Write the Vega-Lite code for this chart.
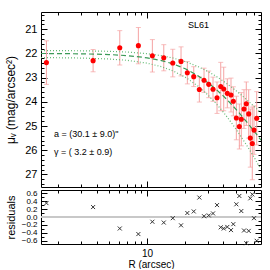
{
  "$schema": "https://vega.github.io/schema/vega-lite/v6.json",
  "padding": {"left": 4, "top": 11, "right": 5, "bottom": 0},
  "spacing": 3,
  "bounds": "flush",
  "config": {
    "view": {"stroke": null},
    "font": "Liberation Sans",
    "axis": {"grid": false, "domainColor": "#000", "tickColor": "#000", "labelColor": "#000", "titleColor": "#000", "titleFontWeight": "normal", "labelFont": "Liberation Sans", "titleFont": "Liberation Sans", "labelFontSize": 11, "titleFontSize": 11, "labelOverlap": false, "labelFlush": false, "tickWidth": 1, "domainWidth": 1}
  },
  "vconcat": [
    {
      "width": 220,
      "height": 175,
      "resolve": {"axis": {"x": "independent", "y": "independent"}},
      "data": {"values": [
        {"R": 1.611, "mu": 22.38, "lo": 21.48, "hi": 23.28},
        {"R": 3.757, "mu": 22.30, "lo": 21.84, "hi": 22.76},
        {"R": 6.095, "mu": 21.77, "lo": 21.06, "hi": 22.48},
        {"R": 8.54, "mu": 21.68, "lo": 20.93, "hi": 22.43},
        {"R": 11.01, "mu": 22.10, "lo": 21.43, "hi": 22.77},
        {"R": 13.54, "mu": 22.18, "lo": 21.64, "hi": 22.72},
        {"R": 15.94, "mu": 22.40, "lo": 21.83, "hi": 22.97},
        {"R": 18.52, "mu": 22.33, "lo": 21.73, "hi": 22.93},
        {"R": 20.76, "mu": 22.80, "lo": 22.34, "hi": 23.26},
        {"R": 23.32, "mu": 22.96, "lo": 22.55, "hi": 23.37},
        {"R": 25.81, "mu": 23.49, "lo": 22.97, "hi": 24.01},
        {"R": 28.11, "mu": 23.11, "lo": 22.61, "hi": 23.61},
        {"R": 30.61, "mu": 23.28, "lo": 22.73, "hi": 23.83},
        {"R": 33.09, "mu": 23.48, "lo": 22.98, "hi": 23.98},
        {"R": 35.58, "mu": 23.83, "lo": 23.18, "hi": 24.48},
        {"R": 38.05, "mu": 23.37, "lo": 22.37, "hi": 24.37},
        {"R": 40.18, "mu": 23.47, "lo": 22.57, "hi": 24.37},
        {"R": 42.88, "mu": 23.65, "lo": 23.05, "hi": 24.25},
        {"R": 45.85, "mu": 23.72, "lo": 23.02, "hi": 24.42},
        {"R": 47.81, "mu": 23.98, "lo": 23.38, "hi": 24.58},
        {"R": 50.5, "mu": 24.67, "lo": 23.77, "hi": 25.57},
        {"R": 53.32, "mu": 25.02, "lo": 24.09, "hi": 25.95},
        {"R": 55.27, "mu": 24.72, "lo": 23.62, "hi": 25.82},
        {"R": 58.05, "mu": 24.30, "lo": 23.50, "hi": 25.10},
        {"R": 60.5, "mu": 24.08, "lo": 23.18, "hi": 24.98},
        {"R": 63.22, "mu": 24.50, "lo": 23.50, "hi": 25.50},
        {"R": 65.07, "mu": 25.50, "lo": 24.30, "hi": 26.70},
        {"R": 67.46, "mu": 25.72, "lo": 24.22, "hi": 27.22},
        {"R": 69.58, "mu": 25.17, "lo": 24.17, "hi": 26.17},
        {"R": 73.08, "mu": 24.68, "lo": 23.58, "hi": 25.78}
      ]},
      "layer": [
        {
          "mark": {"type": "rule", "color": "#f5a3a3", "strokeWidth": 1},
          "encoding": {
            "x": {"field": "R", "type": "quantitative", "scale": {"type": "log", "domain": [1.46, 79], "nice": false},
                  "axis": {"orient": "bottom", "values": [10], "tickSize": -6, "labels": false, "title": null}},
            "y": {"field": "lo", "type": "quantitative", "scale": {"domain": [20.29, 27.52], "reverse": true, "nice": false, "zero": false},
                  "axis": {"orient": "left", "values": [21, 22, 23, 24, 25, 26, 27], "tickSize": -6, "labelPadding": 10, "format": "d", "title": "μᵥ (mag/arcsec²)", "titleFontSize": 12, "titleX": -31, "titleBaseline": "middle"}},
            "y2": {"field": "hi"}
          }
        },
        {
          "mark": {"type": "tick", "orient": "horizontal", "color": "#f5a3a3", "size": 5, "thickness": 1},
          "encoding": {
            "x": {"field": "R", "type": "quantitative", "scale": {"type": "log", "domain": [1.46, 79], "nice": false},
                  "axis": {"orient": "bottom", "values": [2, 3, 4, 5, 6, 7, 8, 9, 20, 30, 40, 50, 60, 70], "tickSize": -3, "labels": false, "domain": false, "title": null}},
            "y": {"field": "lo", "type": "quantitative", "scale": {"domain": [20.29, 27.52], "reverse": true, "nice": false, "zero": false},
                  "axis": {"orient": "left", "values": [20.4, 20.6, 20.8, 21.2, 21.4, 21.6, 21.8, 22.2, 22.4, 22.6, 22.8, 23.2, 23.4, 23.6, 23.8, 24.2, 24.4, 24.6, 24.8, 25.2, 25.4, 25.6, 25.8, 26.2, 26.4, 26.6, 26.8, 27.2, 27.4], "tickSize": -3, "labels": false, "domain": false, "title": null}}
          }
        },
        {
          "mark": {"type": "tick", "orient": "horizontal", "color": "#f5a3a3", "size": 5, "thickness": 1},
          "encoding": {
            "x": {"field": "R", "type": "quantitative", "scale": {"type": "log", "domain": [1.46, 79], "nice": false},
                  "axis": {"orient": "top", "values": [10], "tickSize": -6, "labels": false, "title": null}},
            "y": {"field": "hi", "type": "quantitative", "scale": {"domain": [20.29, 27.52], "reverse": true, "nice": false, "zero": false},
                  "axis": {"orient": "right", "values": [21, 22, 23, 24, 25, 26, 27], "tickSize": -6, "labels": false, "title": null}}
          }
        },
        {
          "data": {"values": [
            {"R": 1.46, "mu": 22.004, "c": "fit"}, {"R": 2, "mu": 22.008, "c": "fit"}, {"R": 3, "mu": 22.017, "c": "fit"}, {"R": 5, "mu": 22.047, "c": "fit"}, {"R": 7, "mu": 22.092, "c": "fit"}, {"R": 10, "mu": 22.182, "c": "fit"}, {"R": 13, "mu": 22.297, "c": "fit"}, {"R": 16, "mu": 22.432, "c": "fit"}, {"R": 20, "mu": 22.635, "c": "fit"}, {"R": 25, "mu": 22.911, "c": "fit"}, {"R": 30, "mu": 23.198, "c": "fit"}, {"R": 35, "mu": 23.486, "c": "fit"}, {"R": 40, "mu": 23.767, "c": "fit"}, {"R": 45, "mu": 24.040, "c": "fit"}, {"R": 50, "mu": 24.300, "c": "fit"}, {"R": 55, "mu": 24.549, "c": "fit"}, {"R": 60, "mu": 24.787, "c": "fit"}, {"R": 65, "mu": 25.012, "c": "fit"}, {"R": 70, "mu": 25.227, "c": "fit"}, {"R": 75, "mu": 25.431, "c": "fit"}, {"R": 79, "mu": 25.588, "c": "fit"},
            {"R": 1.46, "mu": 21.883, "c": "up"}, {"R": 2, "mu": 21.886, "c": "up"}, {"R": 3, "mu": 21.892, "c": "up"}, {"R": 5, "mu": 21.914, "c": "up"}, {"R": 7, "mu": 21.946, "c": "up"}, {"R": 10, "mu": 22.011, "c": "up"}, {"R": 13, "mu": 22.094, "c": "up"}, {"R": 16, "mu": 22.191, "c": "up"}, {"R": 20, "mu": 22.337, "c": "up"}, {"R": 25, "mu": 22.535, "c": "up"}, {"R": 30, "mu": 22.741, "c": "up"}, {"R": 35, "mu": 22.948, "c": "up"}, {"R": 40, "mu": 23.150, "c": "up"}, {"R": 45, "mu": 23.346, "c": "up"}, {"R": 50, "mu": 23.533, "c": "up"}, {"R": 55, "mu": 23.712, "c": "up"}, {"R": 60, "mu": 23.883, "c": "up"}, {"R": 65, "mu": 24.045, "c": "up"}, {"R": 70, "mu": 24.199, "c": "up"}, {"R": 75, "mu": 24.346, "c": "up"}, {"R": 79, "mu": 24.459, "c": "up"},
            {"R": 1.46, "mu": 22.175, "c": "dn"}, {"R": 2, "mu": 22.180, "c": "dn"}, {"R": 3, "mu": 22.192, "c": "dn"}, {"R": 5, "mu": 22.231, "c": "dn"}, {"R": 7, "mu": 22.287, "c": "dn"}, {"R": 10, "mu": 22.403, "c": "dn"}, {"R": 13, "mu": 22.551, "c": "dn"}, {"R": 16, "mu": 22.724, "c": "dn"}, {"R": 20, "mu": 22.984, "c": "dn"}, {"R": 25, "mu": 23.338, "c": "dn"}, {"R": 30, "mu": 23.705, "c": "dn"}, {"R": 35, "mu": 24.074, "c": "dn"}, {"R": 40, "mu": 24.434, "c": "dn"}, {"R": 45, "mu": 24.784, "c": "dn"}, {"R": 50, "mu": 25.117, "c": "dn"}, {"R": 55, "mu": 25.436, "c": "dn"}, {"R": 60, "mu": 25.740, "c": "dn"}, {"R": 65, "mu": 26.030, "c": "dn"}, {"R": 70, "mu": 26.305, "c": "dn"}, {"R": 75, "mu": 26.597, "c": "dn"}, {"R": 79, "mu": 26.767, "c": "dn"}
          ]},
          "mark": {"type": "line", "strokeWidth": 1.2, "clip": true},
          "encoding": {
            "x": {"field": "R", "type": "quantitative", "scale": {"type": "log", "domain": [1.46, 79], "nice": false},
                  "axis": {"orient": "top", "values": [2, 3, 4, 5, 6, 7, 8, 9, 20, 30, 40, 50, 60, 70], "tickSize": -3, "labels": false, "domain": false, "title": null}},
            "y": {"field": "mu", "type": "quantitative", "scale": {"domain": [20.29, 27.52], "reverse": true, "nice": false, "zero": false},
                  "axis": {"orient": "right", "values": [20.4, 20.6, 20.8, 21.2, 21.4, 21.6, 21.8, 22.2, 22.4, 22.6, 22.8, 23.2, 23.4, 23.6, 23.8, 24.2, 24.4, 24.6, 24.8, 25.2, 25.4, 25.6, 25.8, 26.2, 26.4, 26.6, 26.8, 27.2, 27.4], "tickSize": -3, "labels": false, "domain": false, "title": null}},
            "color": {"field": "c", "type": "nominal", "scale": {"domain": ["fit", "up", "dn"], "range": ["#3b9a57", "#66bb77", "#66bb77"]}, "legend": null},
            "strokeDash": {"field": "c", "type": "nominal", "scale": {"domain": ["fit", "up", "dn"], "range": [[5, 3], [1, 2], [1, 2]]}, "legend": null}
          }
        },
        {
          "mark": {"type": "circle", "color": "#ff0000", "opacity": 1, "size": 26},
          "encoding": {
            "x": {"field": "R", "type": "quantitative", "scale": {"type": "log", "domain": [1.46, 79], "nice": false}, "axis": null},
            "y": {"field": "mu", "type": "quantitative", "scale": {"domain": [20.29, 27.52], "reverse": true, "nice": false, "zero": false}, "axis": null}
          }
        },
        {
          "data": {"values": [
            {"R": 1.85, "mu": 25.33, "t": "a = (30.1 ± 9.0)\""},
            {"R": 1.85, "mu": 26.09, "t": "γ = ( 3.2 ± 0.9)"},
            {"R": 21.0, "mu": 20.82, "t": "SL61"}
          ]},
          "mark": {"type": "text", "align": "left", "baseline": "middle", "fontSize": 9, "color": "#000"},
          "encoding": {
            "x": {"field": "R", "type": "quantitative", "scale": {"type": "log", "domain": [1.46, 79], "nice": false}, "axis": null},
            "y": {"field": "mu", "type": "quantitative", "scale": {"domain": [20.29, 27.52], "reverse": true, "nice": false, "zero": false}, "axis": null},
            "text": {"field": "t"}
          }
        }
      ]
    },
    {
      "width": 220,
      "height": 54,
      "resolve": {"axis": {"x": "independent", "y": "independent"}},
      "data": {"values": [
        {"R": 1.611, "res": 0.35}, {"R": 3.757, "res": 0.25}, {"R": 6.095, "res": -0.29}, {"R": 8.54, "res": -0.43}, {"R": 11.01, "res": -0.12},
        {"R": 13.54, "res": -0.14}, {"R": 15.94, "res": -0.03}, {"R": 18.52, "res": -0.21}, {"R": 20.76, "res": 0.10}, {"R": 23.32, "res": 0.14},
        {"R": 25.81, "res": 0.49}, {"R": 28.11, "res": 0.02}, {"R": 30.61, "res": 0.04}, {"R": 33.09, "res": 0.09}, {"R": 35.58, "res": 0.30},
        {"R": 38.05, "res": -0.26}, {"R": 40.18, "res": -0.29}, {"R": 42.88, "res": -0.25}, {"R": 45.85, "res": -0.33}, {"R": 47.81, "res": -0.18},
        {"R": 50.5, "res": 0.32}, {"R": 53.32, "res": 0.53}, {"R": 55.27, "res": 0.15}, {"R": 58.05, "res": -0.34}, {"R": 60.5, "res": -0.66},
        {"R": 63.22, "res": -0.35}, {"R": 65.07, "res": 0.47}, {"R": 67.46, "res": 0.57}, {"R": 69.58, "res": -0.03}, {"R": 73.08, "res": -0.60}
      ]},
      "layer": [
        {
          "mark": {"type": "rule", "color": "#c8c8c8", "strokeWidth": 2},
          "encoding": {
            "y": {"datum": 0, "type": "quantitative", "scale": {"domain": [-0.68, 0.68], "nice": false, "zero": false},
                  "axis": {"orient": "left", "values": [-0.6, -0.4, -0.2, 0, 0.2, 0.4, 0.6], "format": ".1f", "tickSize": -6, "labelPadding": 10, "labelFontSize": 8, "title": "residuals", "titleFontSize": 11, "titleX": -30, "titleBaseline": "middle"}}
          }
        },
        {
          "mark": {"type": "point", "shape": "M-1,-1L1,1M-1,1L1,-1", "filled": false, "stroke": "#333", "strokeWidth": 1, "size": 16, "opacity": 1},
          "encoding": {
            "x": {"field": "R", "type": "quantitative", "scale": {"type": "log", "domain": [1.46, 79], "nice": false},
                  "axis": {"orient": "bottom", "values": [10], "format": "d", "tickSize": -6, "labelPadding": 10, "labelFontSize": 10, "title": "R (arcsec)", "titleFontSize": 10, "titleY": 20, "titleBaseline": "middle"}},
            "y": {"field": "res", "type": "quantitative", "scale": {"domain": [-0.68, 0.68], "nice": false, "zero": false},
                  "axis": {"orient": "left", "values": [-0.5, -0.3, -0.1, 0.1, 0.3, 0.5], "tickSize": -3, "labels": false, "domain": false, "title": null}}
          }
        },
        {
          "mark": {"type": "point", "opacity": 0},
          "encoding": {
            "x": {"field": "R", "type": "quantitative", "scale": {"type": "log", "domain": [1.46, 79], "nice": false},
                  "axis": {"orient": "bottom", "values": [2, 3, 4, 5, 6, 7, 8, 9, 20, 30, 40, 50, 60, 70], "tickSize": -3, "labels": false, "domain": false, "title": null}},
            "y": {"field": "res", "type": "quantitative", "scale": {"domain": [-0.68, 0.68], "nice": false, "zero": false},
                  "axis": {"orient": "right", "values": [-0.6, -0.4, -0.2, 0, 0.2, 0.4, 0.6], "tickSize": -6, "labels": false, "title": null}}
          }
        },
        {
          "mark": {"type": "point", "opacity": 0},
          "encoding": {
            "x": {"field": "R", "type": "quantitative", "scale": {"type": "log", "domain": [1.46, 79], "nice": false},
                  "axis": {"orient": "top", "values": [10], "tickSize": -6, "labels": false, "title": null}},
            "y": {"field": "res", "type": "quantitative", "scale": {"domain": [-0.68, 0.68], "nice": false, "zero": false},
                  "axis": {"orient": "right", "values": [-0.5, -0.3, -0.1, 0.1, 0.3, 0.5], "tickSize": -3, "labels": false, "domain": false, "title": null}}
          }
        },
        {
          "mark": {"type": "point", "opacity": 0},
          "encoding": {
            "x": {"field": "R", "type": "quantitative", "scale": {"type": "log", "domain": [1.46, 79], "nice": false},
                  "axis": {"orient": "top", "values": [2, 3, 4, 5, 6, 7, 8, 9, 20, 30, 40, 50, 60, 70], "tickSize": -3, "labels": false, "domain": false, "title": null}},
            "y": {"field": "res", "type": "quantitative", "scale": {"domain": [-0.68, 0.68], "nice": false, "zero": false}, "axis": null}
          }
        }
      ]
    }
  ]
}
